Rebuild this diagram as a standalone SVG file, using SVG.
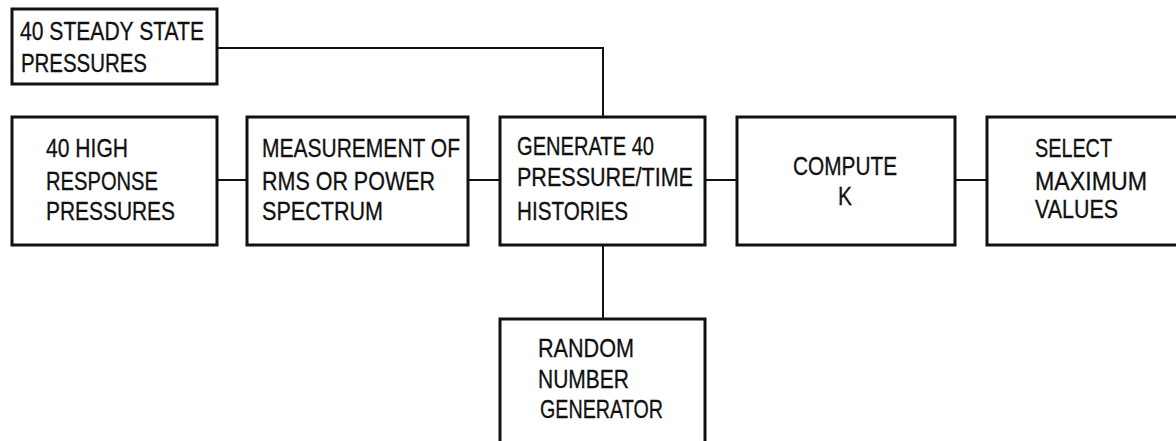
<svg xmlns="http://www.w3.org/2000/svg" width="1176" height="441" viewBox="0 0 1176 441">
<style>
.box{fill:#fff;stroke:#111;stroke-width:3}
.t{font-family:"Liberation Sans",Arial,sans-serif;font-size:25px;fill:#111;stroke:#111;stroke-width:0.3}
.c{fill:none;stroke:#111;stroke-width:2}
</style>
<rect width="1176" height="441" fill="#fff"/>
<g id="connectors">
<path class="c" d="M217 48 H603 V117"/>
<path class="c" d="M217 180 H247"/>
<path class="c" d="M468 180 H500"/>
<path class="c" d="M705 180 H737"/>
<path class="c" d="M955 180 H987"/>
<path class="c" d="M603 245 V319"/>
</g>
<g id="steady">
<rect class="box" x="12" y="9" width="205" height="75"/>
<text class="t" x="20" y="40" textLength="184" lengthAdjust="spacingAndGlyphs">40 STEADY STATE</text>
<text class="t" x="21" y="72" textLength="126" lengthAdjust="spacingAndGlyphs">PRESSURES</text>
</g>
<g id="high">
<rect class="box" x="12" y="117" width="205" height="128"/>
<text class="t" x="46" y="157" textLength="82" lengthAdjust="spacingAndGlyphs">40 HIGH</text>
<text class="t" x="46" y="190" textLength="112" lengthAdjust="spacingAndGlyphs">RESPONSE</text>
<text class="t" x="46" y="220" textLength="129" lengthAdjust="spacingAndGlyphs">PRESSURES</text>
</g>
<g id="measure">
<rect class="box" x="247" y="117" width="221" height="128"/>
<text class="t" x="262" y="157" textLength="198" lengthAdjust="spacingAndGlyphs">MEASUREMENT OF</text>
<text class="t" x="262" y="190" textLength="173" lengthAdjust="spacingAndGlyphs">RMS OR POWER</text>
<text class="t" x="262" y="220" textLength="121" lengthAdjust="spacingAndGlyphs">SPECTRUM</text>
</g>
<g id="generate">
<rect class="box" x="500" y="117" width="205" height="128"/>
<text class="t" x="517" y="155" textLength="137" lengthAdjust="spacingAndGlyphs">GENERATE 40</text>
<text class="t" x="517" y="186" textLength="176" lengthAdjust="spacingAndGlyphs">PRESSURE/TIME</text>
<text class="t" x="517" y="220" textLength="111" lengthAdjust="spacingAndGlyphs">HISTORIES</text>
</g>
<g id="compute">
<rect class="box" x="737" y="117" width="218" height="128"/>
<text class="t" x="793" y="175" textLength="104" lengthAdjust="spacingAndGlyphs">COMPUTE</text>
<text class="t" x="838" y="205" textLength="14" lengthAdjust="spacingAndGlyphs">K</text>
</g>
<g id="select">
<rect class="box" x="987" y="117" width="200" height="128"/>
<text class="t" x="1035" y="157" textLength="77" lengthAdjust="spacingAndGlyphs">SELECT</text>
<text class="t" x="1035" y="190" textLength="112" lengthAdjust="spacingAndGlyphs">MAXIMUM</text>
<text class="t" x="1035" y="218" textLength="83" lengthAdjust="spacingAndGlyphs">VALUES</text>
</g>
<g id="random">
<rect class="box" x="500" y="319" width="205" height="140"/>
<text class="t" x="538" y="357" textLength="96" lengthAdjust="spacingAndGlyphs">RANDOM</text>
<text class="t" x="538" y="388" textLength="91" lengthAdjust="spacingAndGlyphs">NUMBER</text>
<text class="t" x="540" y="418" textLength="123" lengthAdjust="spacingAndGlyphs">GENERATOR</text>
</g>
</svg>
